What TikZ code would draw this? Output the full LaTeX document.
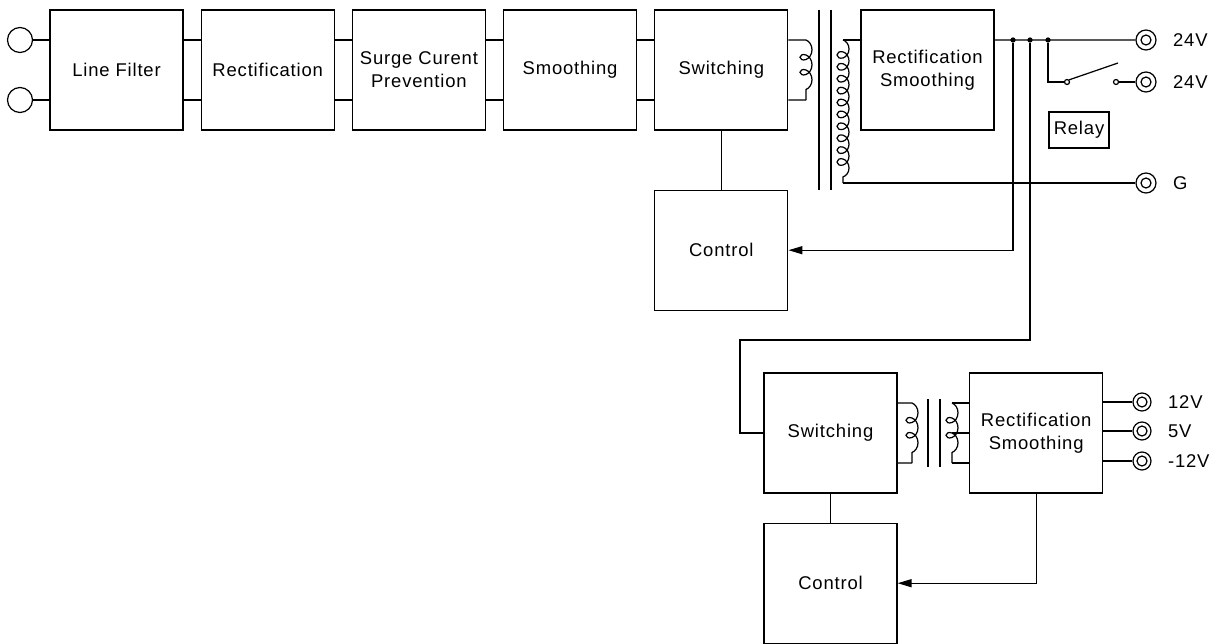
\documentclass[tikz,border=0pt]{standalone}
\usepackage{fontspec}
\setmainfont{Liberation Sans}[LetterSpace=4.5]
\usetikzlibrary{positioning, arrows.meta, decorations.pathmorphing}

\begin{document}
\begin{tikzpicture}
	  [x=0.02cm, y=-0.02cm, line width=0.7pt, font=\fontsize{10.5}{13}\selectfont,
	  %
	  block/.style={rectangle, draw, align=center, minimum width=2.66cm, minimum height=2.4cm, inner sep=0pt},
	  %
	  inlet/.style={circle, draw, inner sep=0pt, minimum size=0.5cm},
	  %
	  outlet/.style={circle, draw, inner sep=0pt, minimum size=0.4cm, path picture={\draw (path picture bounding box.center) circle (0.1cm);}},
	  %
	  junction/.style={circle, fill, inner sep=0pt, minimum size=3pt},
	  %
	  contact/.style={circle, draw, fill=white, inner sep=0pt, minimum size=0.1cm},
	  %
	  winding/.style={decorate, decoration={coil, aspect=1, amplitude=0.12cm, segment length=0.3cm}},
	  %
	  feedback/.style={-{Triangle[length=0.28cm, width=0.16cm]}}]

	    \useasboundingbox (0,0) rectangle (1227,643);

	    % main chain
	    \node [block] (filter) at (116.5,70) {Line Filter};
	    \node [block, right=0.34cm of filter] (rect) {Rectification};
	    \node [block, right=0.34cm of rect] (surge) {Surge Curent\\Prevention};
	    \node [block, right=0.34cm of surge] (smooth) {Smoothing};
	    \node [block, right=0.34cm of smooth] (switch) {Switching};
	    \node [block, right=1.44cm of switch] (rectsm) {Rectification\\Smoothing};
	    \node [block, below=1.18cm of switch] (control) {Control};
	    % second converter
	    \node [block] (switchb) at (830.5,433) {Switching};
	    \node [block, right=1.43cm of switchb] (rectsmb) {Rectification\\Smoothing};
	    \node [block, below=0.58cm of switchb] (controlb) {Control};

	    \node [inlet] (mainsa) at (20,40) {};
	    \node [inlet] (mainsb) at (20,100) {};
	    \draw (mainsa) -- (mainsa -| filter.west);
	    \draw (mainsb) -- (mainsb -| filter.west);

	    \foreach \a/\b in {filter/rect, rect/surge, surge/smooth, smooth/switch}
	      \draw ([yshift=0.6cm]\a.east) -- ([yshift=0.6cm]\b.west)
	            ([yshift=-0.6cm]\a.east) -- ([yshift=-0.6cm]\b.west);

	    % main transformer
	    \coordinate (pria) at (806,40);
	    \coordinate (prib) at (806,100);
	    \coordinate (seca) at (843,40);
	    \coordinate (secb) at (843,183);
	    \draw ([yshift=0.6cm]switch.east) -- (pria);
	    \draw [winding] (pria) -- (prib);
	    \draw (prib) -- ([yshift=-0.6cm]switch.east);
	    \draw (819,10) -- (819,190) (831,10) -- (831,190);
	    \draw [winding, decoration={segment length=0.238cm}] (seca) -- (secb);
	    \draw (seca) -- (seca -| rectsm.west);

	    % outputs 24V
	    \node [outlet, label={[label distance=0.2cm]right:24V}] (outa) at (1146,40) {};
	    \node [outlet, label={[label distance=0.2cm]right:24V}] (outb) at (1146,82) {};
	    \node [outlet, label={[label distance=0.2cm]right:G}] (outg) at (1146,183) {};
	    \draw ([yshift=0.6cm]rectsm.east) -- (outa);
	    \draw (secb) -- (outg);
	    \node [junction] (ja) at (1013,40) {};
	    \node [junction] (jb) at (1030,40) {};
	    \node [junction] (jc) at (1048,40) {};

	    % relay
	    \node [contact] (ca) at (1067,82) {};
	    \node [contact] (cb) at (1116,82) {};
	    \coordinate (lever) at (1118,63);
	    \draw (jc) |- (ca);
	    \draw (ca.north east) -- (lever);
	    \draw (cb) -- (outb);
	    \node [draw, minimum width=1.2cm, minimum height=0.72cm, inner sep=0pt] (relay) at (1079,130) {Relay};

	    % control loops
	    \draw (switch) -- (control);
	    \draw [feedback] (ja) |- (control.east);
	    \coordinate (bend) at (740,340);
	    \draw (jb) |- (bend) |- (switchb.west);

	    % second transformer
	    \coordinate (pric) at (912,403);
	    \coordinate (prid) at (912,463);
	    \coordinate (secc) at (952,403);
	    \coordinate (secd) at (952,463);
	    \coordinate (tap) at (952,433);
	    \draw ([yshift=0.6cm]switchb.east) -- (pric);
	    \draw [winding] (pric) -- (prid);
	    \draw (prid) -- ([yshift=-0.6cm]switchb.east);
	    \draw (928,399) -- (928,467) (940,399) -- (940,467);
	    \draw [winding] (secc) -- (secd);
	    \draw (secc) -- (secc -| rectsmb.west)
	          (tap) -- (rectsmb.west)
	          (secd) -- (secd -| rectsmb.west);

	    % outputs 12V / 5V / -12V
	    \node [outlet, minimum size=0.36cm, label={[label distance=0.2cm]right:12V}] (outc) at (1142,402) {};
	    \node [outlet, minimum size=0.36cm, label={[label distance=0.2cm]right:5V}] (outd) at (1142,431) {};
	    \node [outlet, minimum size=0.36cm, label={[label distance=0.2cm]right:-12V}] (oute) at (1142,461) {};
	    \foreach \o in {outc, outd, oute}
	      \draw (\o -| rectsmb.east) -- (\o);

	    \draw (switchb) -- (controlb);
	    \draw [feedback] (rectsmb.south) |- (controlb.east);
	  \end{tikzpicture}
\end{document}
